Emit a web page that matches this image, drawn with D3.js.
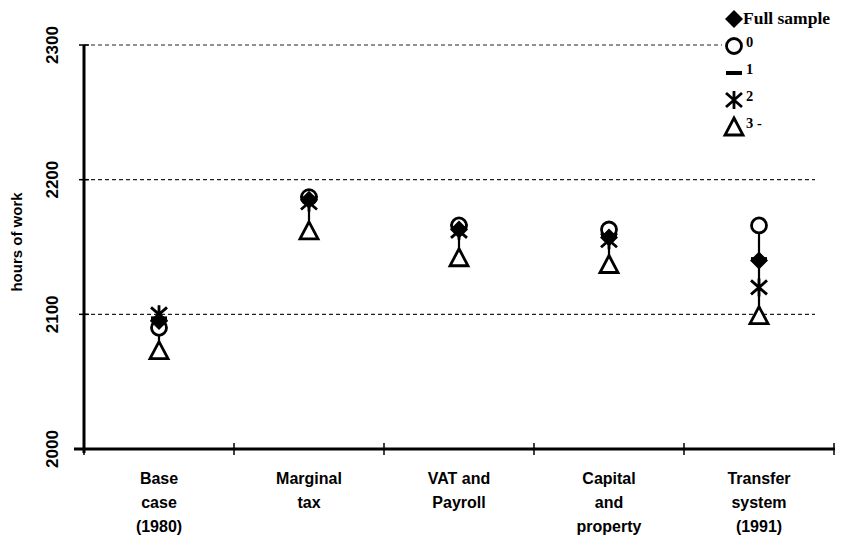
<!DOCTYPE html>
<html>
<head>
<meta charset="utf-8">
<script src="https://cdn.jsdelivr.net/npm/d3@7"></script>
<style>
  body { margin: 0; background: #fff; }
  .lab { font-family: "Liberation Sans", Arial, sans-serif; font-weight: bold; }
  .leg { font-family: "Liberation Serif", "Times New Roman", serif; font-weight: bold; }
</style>
</head>
<body>
<div id="chart"></div>
<script>
// categories (multi-line labels)
var categories = ["Base case (1980)", "Marginal tax", "VAT and Payroll", "Capital and property", "Transfer system (1991)"];
var catLines = [["Base", "case", "(1980)"], ["Marginal", "tax"], ["VAT and", "Payroll"], ["Capital", "and", "property"], ["Transfer", "system", "(1991)"]];

// series values (hours of work)
var fullSample = [2095, 2185, 2163, 2157, 2140];
var group0     = [2090, 2187, 2166, 2163, 2166];
var group1     = [2097, 2186, 2164, 2158, 2141];
var group2     = [2100, 2183, 2162, 2155, 2120];
var group3     = [2073, 2162, 2142, 2137, 2099];

var yTicks = [2000, 2100, 2200, 2300];
var gridTicks = [2100, 2200, 2300];

var W = 843, H = 542;
var mLeft = 84, mRight = 834, mTop = 45, mBottom = 449;

var svg = d3.select("#chart").append("svg")
  .attr("width", W).attr("height", H);

var x = d3.scaleBand().domain(categories).range([mLeft, mRight]).padding(0);
var y = d3.scaleLinear().domain([2000, 2300]).range([mBottom, mTop]);
var cx = d => x(d) + x.bandwidth() / 2;

// dashed gridlines
svg.selectAll(".grid")
  .data(gridTicks)
  .enter().append("line")
  .attr("x1", mLeft).attr("x2", 815)
  .attr("y1", d => y(d)).attr("y2", d => y(d))
  .attr("stroke", "#222").attr("stroke-width", 1.2)
  .attr("stroke-dasharray", "4,3");

// axes
svg.append("line")
  .attr("x1", mLeft).attr("x2", mLeft).attr("y1", mTop).attr("y2", mBottom + 4)
  .attr("stroke", "#000").attr("stroke-width", 3);
svg.append("line")
  .attr("x1", mLeft - 10).attr("x2", mRight + 1).attr("y1", mBottom).attr("y2", mBottom)
  .attr("stroke", "#000").attr("stroke-width", 3);

// y ticks
svg.selectAll(".ytick")
  .data(yTicks)
  .enter().append("line")
  .attr("x1", mLeft - 5).attr("x2", mLeft + 5)
  .attr("y1", d => y(d)).attr("y2", d => y(d))
  .attr("stroke", "#000").attr("stroke-width", 1.5);

svg.selectAll(".ylab")
  .data(yTicks)
  .enter().append("text")
  .attr("class", "lab")
  .attr("transform", d => `translate(58,${y(d)}) rotate(-90)`)
  .attr("text-anchor", "middle")
  .style("font-size", "17px")
  .text(d => d);

svg.append("text")
  .attr("class", "lab")
  .attr("transform", `translate(22,${(mTop + mBottom) / 2 - 5}) rotate(-90)`)
  .attr("text-anchor", "middle")
  .style("font-size", "15px")
  .text("hours of work");

// x ticks at band edges
var xTickPos = categories.map(d => x(d)).concat([mRight]);
svg.selectAll(".xtick")
  .data(xTickPos)
  .enter().append("line")
  .attr("x1", d => d).attr("x2", d => d)
  .attr("y1", mBottom - 6).attr("y2", mBottom + 6)
  .attr("stroke", "#000").attr("stroke-width", 1.5);

// x labels
catLines.forEach(function(lines, i) {
  var t = svg.append("text")
    .attr("class", "lab")
    .attr("text-anchor", "middle")
    .style("font-size", "16px");
  lines.forEach(function(s, j) {
    t.append("tspan")
      .attr("x", cx(categories[i]))
      .attr("y", 484 + j * 24)
      .text(s);
  });
});

// high-low lines
categories.forEach(function(c, i) {
  var vals = [fullSample[i], group0[i], group1[i], group2[i], group3[i]];
  svg.append("line")
    .attr("x1", cx(c)).attr("x2", cx(c))
    .attr("y1", y(d3.max(vals))).attr("y2", y(d3.min(vals)))
    .attr("stroke", "#000").attr("stroke-width", 2.2);
});

// marker shapes
function drawTriangle(g, px, py) {
  g.append("path")
    .attr("d", `M${px},${py - 9} L${px + 9},${py + 8} L${px - 9},${py + 8} Z`)
    .attr("fill", "#fff").attr("stroke", "#000").attr("stroke-width", 2.8)
    .attr("stroke-linejoin", "miter");
}
function drawStar(g, px, py) {
  var p = `M${px - 8},${py - 7} L${px + 8},${py + 7} M${px + 8},${py - 7} L${px - 8},${py + 7} M${px},${py - 9} L${px},${py + 9}`;
  g.append("path").attr("d", p).attr("stroke", "#000").attr("stroke-width", 2.8).attr("fill", "none");
}
function drawDash(g, px, py) {
  g.append("line")
    .attr("x1", px - 8).attr("x2", px + 8).attr("y1", py).attr("y2", py)
    .attr("stroke", "#000").attr("stroke-width", 4);
}
function drawCircle(g, px, py) {
  g.append("circle").attr("cx", px).attr("cy", py).attr("r", 7.5)
    .attr("fill", "#fff").attr("stroke", "#000").attr("stroke-width", 2.8);
}
function drawDiamond(g, px, py) {
  g.append("path")
    .attr("d", `M${px},${py - 9} L${px + 9},${py} L${px},${py + 9} L${px - 9},${py} Z`)
    .attr("fill", "#000");
}

var series = [
  { name: "3 -", values: group3, draw: drawTriangle },
  { name: "2", values: group2, draw: drawStar },
  { name: "0", values: group0, draw: drawCircle },
  { name: "1", values: group1, draw: drawDash },
  { name: "Full sample", values: fullSample, draw: drawDiamond }
];

var marks = svg.append("g");
series.forEach(function(s) {
  s.values.forEach(function(v, i) {
    s.draw(marks, cx(categories[i]), y(v));
  });
});

// legend (white box hides the gridline behind it)
var legendOrder = ["Full sample", "0", "1", "2", "3 -"];
var lg = svg.append("g");
lg.append("rect")
  .attr("x", 722).attr("y", 0).attr("width", W - 722).attr("height", 150)
  .attr("fill", "#fff");
legendOrder.forEach(function(name, i) {
  var s = series.find(d => d.name === name);
  var ly = 19 + i * 27;
  s.draw(lg, 734, ly);
  lg.append("text")
    .attr("class", "leg")
    .attr("x", i === 0 ? 743 : 746)
    .attr("y", ly + (i === 0 ? 5 : 1))
    .style("font-size", i === 0 ? "17.5px" : "14.5px")
    .text(name);
});
</script>
</body>
</html>
